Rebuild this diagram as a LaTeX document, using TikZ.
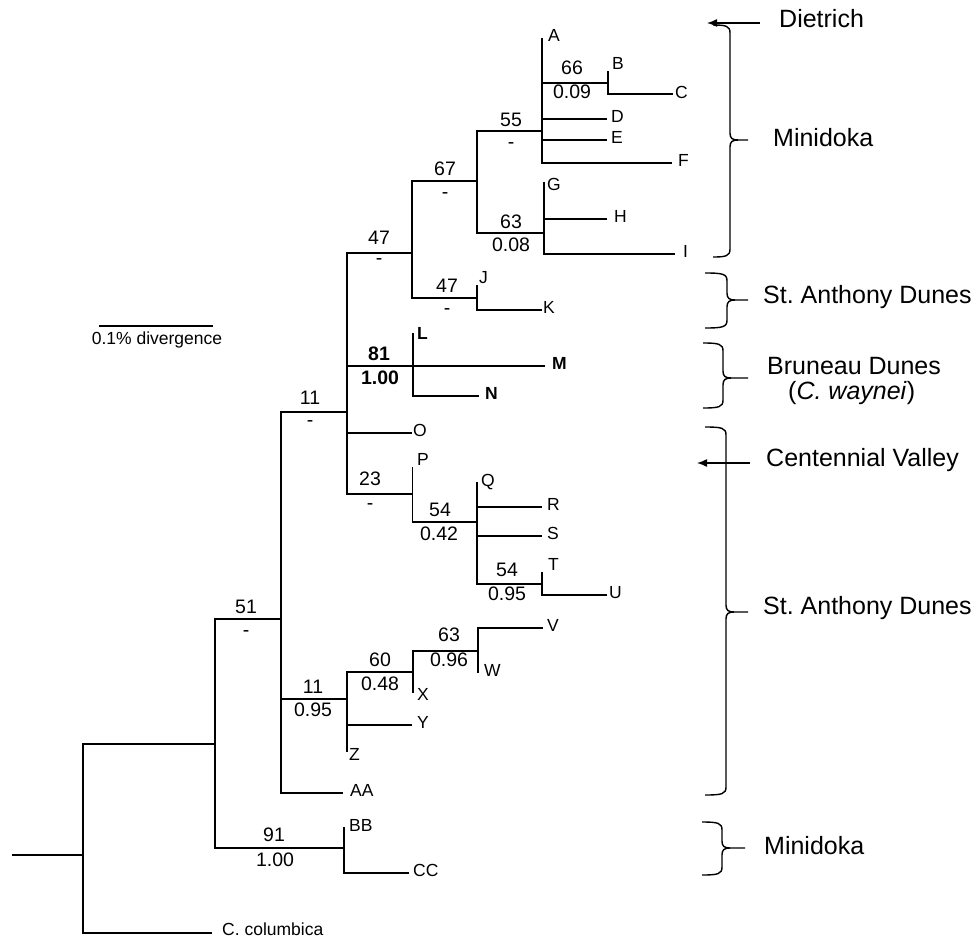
\documentclass[tikz,border=0pt]{standalone}
\usepackage{fontspec}
\setmainfont{Liberation Sans}
\usetikzlibrary{arrows.meta}
\frenchspacing
\begin{document}
\begin{tikzpicture}[x=1pt,y=-1pt,
  tree/.style={line width=1.5pt,line join=miter},
  boldbr/.style={line width=2.8pt,line join=miter},
  thinbr/.style={line width=1pt},
  leaf/.style={anchor=west,inner sep=0pt,text height=0.72em,text depth=0pt,font=\fontsize{17.5}{17.5}\selectfont},
  boldleaf/.style={leaf,font=\fontsize{17.5}{17.5}\selectfont\bfseries},
  supp/.style={inner sep=0pt,text height=0.72em,text depth=0pt,font=\fontsize{19.5}{19.5}\selectfont},
  boldsupp/.style={supp,font=\fontsize{19.5}{19.5}\selectfont\bfseries},
  region/.style={anchor=west,inner sep=0pt,text height=0.72em,text depth=0pt,font=\fontsize{25}{25}\selectfont},
  brace/.style={line width=1.4pt},
  pointer/.style={line width=1.4pt,-{Latex[length=10pt,width=8pt]}}]
\useasboundingbox (0,0) rectangle (974,939);
% ---- tree coordinates ----
\coordinate (r0) at (12,855);
\coordinate (nR) at (83,855);
\coordinate (nA) at (215,744);
\coordinate (tCol) at (212,933);
\coordinate (n51) at (281,619);
\coordinate (n91) at (344,848);
\coordinate (n11a) at (347,412);
\coordinate (n11b) at (347,699);
\coordinate (tAA) at (343,793);
\coordinate (n47a) at (412,253);
\coordinate (n81) at (413,366);
\coordinate (tO) at (412,433);
\coordinate (n23) at (412,494);
\coordinate (n67) at (477,181);
\coordinate (n47b) at (477,298);
\coordinate (n55) at (542,131);
\coordinate (n63a) at (544,233);
\coordinate (tA) at (542,38);
\coordinate (n66) at (608,83);
\coordinate (tD) at (607,119);
\coordinate (tE) at (607,140);
\coordinate (tF) at (672,163);
\coordinate (tB) at (608,71);
\coordinate (tC) at (673,94);
\coordinate (tG) at (544,182);
\coordinate (tH) at (607,219);
\coordinate (tI) at (675,254);
\coordinate (tJ) at (477,285);
\coordinate (tK) at (542,310);
\coordinate (tL) at (413,333);
\coordinate (tM) at (545,366);
\coordinate (tN) at (479,396);
\coordinate (tP) at (412,467);
\coordinate (n54a) at (477,522);
\coordinate (tQ) at (477,482);
\coordinate (tR) at (542,507);
\coordinate (tS) at (542,536);
\coordinate (n54b) at (542,584);
\coordinate (tT) at (542,572);
\coordinate (tU) at (607,595);
\coordinate (n60) at (413,672);
\coordinate (tY) at (412,725);
\coordinate (tZ) at (347,752);
\coordinate (n63b) at (478,651);
\coordinate (tX) at (413,693);
\coordinate (tV) at (543,628);
\coordinate (tW) at (478,673);
\coordinate (tBB) at (344,827);
\coordinate (tCC) at (409,873);
% ---- branches ----
\draw[tree] (r0) -- (nR);
\draw[tree] (nR) |- (nA);
\draw[tree] (nR) |- (tCol);
\draw[tree] (nA) |- (n51);
\draw[tree] (nA) |- (n91);
\draw[tree] (n51) |- (n11a);
\draw[tree] (n51) |- (n11b);
\draw[tree] (n51) |- (tAA);
\draw[tree] (n11a) |- (n47a);
\draw[tree] (n11a) |- (tO);
\draw[tree] (n11a) |- (n23);
\draw[tree] (n47a) |- (n67);
\draw[tree] (n47a) |- (n47b);
\draw[tree] (n67) |- (n55);
\draw[tree] (n67) |- (n63a);
\draw[tree] (n55) |- (tA);
\draw[tree] (n55) |- (n66);
\draw[tree] (n55) |- (tD);
\draw[tree] (n55) |- (tE);
\draw[tree] (n55) |- (tF);
\draw[tree] (n66) |- (tB);
\draw[tree] (n66) |- (tC);
\draw[tree] (n63a) |- (tG);
\draw[tree] (n63a) |- (tH);
\draw[tree] (n63a) |- (tI);
\draw[tree] (n47b) |- (tJ);
\draw[tree] (n47b) |- (tK);
\draw[boldbr] (n11a |- n81) -- (tM);
\draw[boldbr] (tL) -- (n81 |- tN) -- (tN);
\draw[thinbr] (tP) -- (n23 |- n54a);
\draw[tree] (n23 |- n54a) -- (n54a);
\draw[tree] (n54a) |- (tQ);
\draw[tree] (n54a) |- (tR);
\draw[tree] (n54a) |- (tS);
\draw[tree] (n54a) |- (n54b);
\draw[tree] (n54b) |- (tT);
\draw[tree] (n54b) |- (tU);
\draw[tree] (n11b) |- (n60);
\draw[tree] (n11b) |- (tY);
\draw[tree] (n11b) |- (tZ);
\draw[tree] (n60) |- (n63b);
\draw[tree] (n60) |- (tX);
\draw[tree] (n63b) |- (tV);
\draw[tree] (n63b) |- (tW);
\draw[tree] (n91) |- (tBB);
\draw[tree] (n91) |- (tCC);
% ---- leaf labels ----
\node[leaf] (lA) at (548,38) {A};
\node[leaf] (lB) at (612,66) {B};
\node[leaf] (lC) at (675,95) {C};
\node[leaf] (lD) at (611,119) {D};
\node[leaf] (lE) at (611,140) {E};
\node[leaf] (lF) at (678,163) {F};
\node[leaf] (lG) at (547,187) {G};
\node[leaf] (lH) at (614,219) {H};
\node[leaf] (lI) at (683,254) {I};
\node[leaf] (lJ) at (479,280) {J};
\node[leaf] (lK) at (543,310) {K};
\node[boldleaf] (lL) at (417,336) {L};
\node[boldleaf] (lM) at (552,366) {M};
\node[boldleaf] (lN) at (485,396) {N};
\node[leaf] (lO) at (413,433) {O};
\node[leaf] (lP) at (417,462) {P};
\node[leaf] (lQ) at (481,483) {Q};
\node[leaf] (lR) at (547,507) {R};
\node[leaf] (lS) at (547,536) {S};
\node[leaf] (lT) at (548,567) {T};
\node[leaf] (lU) at (609,595) {U};
\node[leaf] (lV) at (547,628) {V};
\node[leaf] (lW) at (484,673) {W};
\node[leaf] (lX) at (417,697) {X};
\node[leaf] (lY) at (417,725) {Y};
\node[leaf] (lZ) at (349,757) {Z};
\node[leaf] (lAA) at (350,793) {AA};
\node[leaf] (lBB) at (349,828) {BB};
\node[leaf] (lCC) at (413,873) {CC};
\node[leaf] (lCol) at (222,932) {C. columbica};
% ---- support values ----
\node[supp] (s66) at (572,71) {66};
\node[supp] (p66) at (572,95) {0.09};
\node[supp] (s55) at (511,123) {55};
\node[supp] (p55) at (511,145) {-};
\node[supp] (s67) at (445,172) {67};
\node[supp] (p67) at (445,195) {-};
\node[supp] (s63a) at (511,225) {63};
\node[supp] (p63a) at (511,248) {0.08};
\node[supp] (s47a) at (379,241) {47};
\node[supp] (p47a) at (379,261) {-};
\node[supp] (s47b) at (447,289) {47};
\node[supp] (p47b) at (447,311) {-};
\node[boldsupp] (s81) at (379,357) {81};
\node[boldsupp] (p81) at (380,381) {1.00};
\node[supp] (s11a) at (310,401) {11};
\node[supp] (p11a) at (310,423) {-};
\node[supp] (s23) at (370,482) {23};
\node[supp] (p23) at (370,506) {-};
\node[supp] (s54a) at (440,513) {54};
\node[supp] (p54a) at (439,537) {0.42};
\node[supp] (s54b) at (507,573) {54};
\node[supp] (p54b) at (507,597) {0.95};
\node[supp] (s63b) at (449,638) {63};
\node[supp] (p63b) at (449,663) {0.96};
\node[supp] (s60) at (380,663) {60};
\node[supp] (p60) at (380,687) {0.48};
\node[supp] (s11b) at (313,690) {11};
\node[supp] (p11b) at (313,713) {0.95};
\node[supp] (s51) at (246,610) {51};
\node[supp] (p51) at (246,633) {-};
\node[supp] (s91) at (274,838) {91};
\node[supp] (p91) at (275,863) {1.00};
% ---- scale bar ----
\coordinate (sb1) at (99,326);
\coordinate (sb2) at (213,326);
\draw[tree] (sb1) -- (sb2);
\node[supp,font=\fontsize{17.5}{17.5}\selectfont] (sbl) at (157,341) {0.1\% divergence};
% ---- braces ----
\newcommand\curlybrace[6]{% x, top, tip, bottom, end-x, tip-end
  \draw[brace] (#5,#2) .. controls ({#1-4},#2) and (#1,{#2+1}) .. (#1,{#2+8})
     -- (#1,{#3-7}) .. controls (#1,{#3-2}) and ({#1+2},#3) .. ({#1+8},#3) -- (#6,#3);
  \draw[brace] (#5,#4) .. controls ({#1-4},#4) and (#1,{#4-1}) .. (#1,{#4-8})
     -- (#1,{#3+7}) .. controls (#1,{#3+2}) and ({#1+2},#3) .. ({#1+8},#3);
}
\curlybrace{730}{25}{140}{257}{713}{748}
\curlybrace{727}{273}{300}{328}{705}{748}
\curlybrace{723}{343}{378}{408}{703}{748}
\curlybrace{726}{427}{612}{795}{705}{748}
\curlybrace{722}{822}{848}{875}{702}{745}
% ---- region labels ----
\node[region] (rDie) at (779,24) {Dietrich};
\node[region] (rMin1) at (773,143) {Minidoka};
\node[region] (rSAD1) at (763,300) {St. Anthony Dunes};
\node[region] (rBru) at (767,371) {Bruneau Dunes};
\node[region] (rWay) at (788,396) {(\textit{C. waynei})};
\node[region] (rCen) at (766,463) {Centennial Valley};
\node[region] (rSAD2) at (763,611) {St. Anthony Dunes};
\node[region] (rMin2) at (764,851) {Minidoka};
\coordinate (aDie) at (707,23);
\coordinate (aCen) at (697,463);
\draw[pointer] (rDie.west) ++(-19,-1) -- (aDie);
\draw[pointer] (rCen.west) ++(-16,0) -- (aCen);
\end{tikzpicture}
\end{document}
